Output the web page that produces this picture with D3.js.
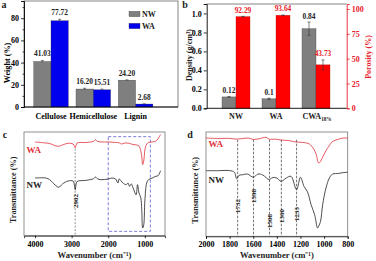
<!DOCTYPE html>
<html><head><meta charset="utf-8">
<script src="https://cdn.jsdelivr.net/npm/d3@7/dist/d3.min.js"></script>
<style>
body{margin:0;background:#fff}
svg text{font-family:"Liberation Serif","Times New Roman",serif;font-weight:bold}
</style>
</head><body>
<svg id="chart" width="376" height="261"></svg>
<script>
// ---------- data ----------
const compCategories = ["Cellulose", "Hemicellulose", "Lignin"];
const compSeries = ["NW", "WA"];
const compNW = [41.03, 16.20, 24.20];
const compWA = [77.72, 15.51, 2.68];
const compNWErr = [0.9, 0.7, 0.3];
const compWAErr = [1.3, 0.6, 0.2];
const compTicks = [0, 20, 40, 60, 80];

const sampleCategories = ["NW", "WA", "CWA"];
const density = [0.12, 0.1, 0.84];
const densityErr = [0.004, 0.006, 0.07];
const porosity = [92.29, 93.64, 43.73];
const porosityErr = [0.3, 0.3, 5];
const densityTicks = [0, 0.2, 0.4, 0.6, 0.8, 1.0];
const porosityTicks = [0, 25, 50, 75, 100];

const fullTicks = [4000, 3000, 2000, 1000];
const fullWA = [[4000,90.4],[3800,89.7],[3600,88.9],[3450,86.8],[3350,86.2],[3250,87.5],[3100,89.1],[2960,88.4],[2920,86],[2902,84.6],[2880,87],[2850,89.4],[2600,89.9],[2400,91],[2350,92.6],[2300,91],[2200,90.4],[2000,90.4],[1800,89.9],[1700,89.6],[1640,88.4],[1550,89.4],[1420,89],[1320,87.9],[1220,87.5],[1160,86.5],[1110,81.7],[1080,75],[1060,68.5],[1035,71.1],[1015,77],[1000,82.6],[950,88.4],[900,89.9],[800,90.4],[700,91.3],[650,93],[610,95.2],[570,97.6]];
const fullNW = [[4000,55.6],[3700,55.6],[3600,54],[3450,48.9],[3350,46.7],[3250,49.9],[3100,52.7],[2960,52.7],[2920,48],[2902,44.4],[2880,49],[2850,52.3],[2600,53.4],[2400,55],[2350,56.6],[2300,55],[2200,54],[2000,54.7],[1900,55.6],[1800,54.7],[1735,50.8],[1700,54.7],[1600,50.8],[1510,49.2],[1460,50.8],[1420,47.6],[1370,49.9],[1320,46],[1240,39.5],[1200,49.2],[1160,41.2],[1110,36.4],[1085,25],[1060,7.4],[1030,10.6],[1000,33.5],[950,50.8],[900,54],[800,55.6],[700,57.3],[640,57.8],[570,62.7]];
const fullMarks = [2902];
const fullBox = [2000, 850];

const fpTicks = [2000, 1800, 1600, 1400, 1200, 1000, 800];
const fpWA = [[2000,94.2],[1900,93.8],[1800,93.9],[1746,93.2],[1700,93.6],[1640,94.2],[1598,92.8],[1540,93.8],[1492,94.9],[1464,93],[1420,93.2],[1365,92.3],[1300,91.8],[1238,90.4],[1180,90],[1125,88.5],[1090,84],[1068,79],[1046,70.3],[1035,71],[1012,76],[984,82],[950,88],[927,91],[880,93],[850,94],[800,94.2]];
const fpNW = [[2000,62.9],[1900,62.9],[1800,63],[1760,61.5],[1740,55.2],[1720,58.5],[1690,59],[1650,59.7],[1598,56.6],[1560,59.7],[1520,58.8],[1464,54.3],[1440,56.2],[1400,55.9],[1365,52.7],[1320,55.9],[1280,57.5],[1233,44.7],[1200,56.6],[1170,47.9],[1140,42.5],[1110,30.3],[1080,20.7],[1055,8],[1045,9.9],[1030,14.4],[1012,30.3],[984,46.3],[955,55.9],[927,59.7],[880,60.2],[850,60.9],[800,61.4]];
const fpMarks = [1732, 1598, 1462, 1362, 1233];
const fpMarkLabels = ["1732", "1598", "1508", "1360", "1233"];

// ---------- drawing ----------
const svg = d3.select("#chart");
const GRAY = "#7f7f7f", BLUE = "#0000ee", RED = "#ff0000", RED2 = "#e8202a";
const FS = 8;

function frame(x0, x1, y0, y1, col) {
  svg.append("rect").attr("x", x0).attr("y", y0).attr("width", x1 - x0).attr("height", y1 - y0)
    .attr("fill", "none").attr("stroke", col || "#555").attr("stroke-width", 0.8);
}
function styleAxis(g, color) {
  g.selectAll("text").attr("font-size", FS).attr("fill", color || "#000")
    .attr("font-family", "Liberation Serif, serif").attr("font-weight", "bold");
  g.selectAll("line").attr("stroke", color || "#000").attr("stroke-width", 0.8);
  g.select(".domain").attr("stroke", color || "#000").attr("stroke-width", 0.9);
}
function label(txt, x, y, size, color, anchor, rot) {
  const t = svg.append("text").attr("font-size", size).attr("fill", color || "#000")
    .attr("text-anchor", anchor || "middle");
  if (rot) t.attr("transform", `translate(${x},${y}) rotate(${rot})`);
  else t.attr("x", x).attr("y", y);
  t.text(txt);
  return t;
}

// ---- panel a ----
(function () {
  const L = 24, R = 178, T = 1, B = 107;
  const x0 = d3.scaleBand().domain(compCategories).range([29.85, 156.75]);
  const bw = 17.3;
  const x1 = d3.scaleBand().domain(compSeries).range([x0.bandwidth() / 2 - bw, x0.bandwidth() / 2 + bw]);
  const y = d3.scaleLinear().domain([0, 95.5]).range([B, T]);
  frame(L, R, T, B, "#666");
  const vals = { NW: compNW, WA: compWA }, errs = { NW: compNWErr, WA: compWAErr }, cols = { NW: GRAY, WA: BLUE };
  compSeries.forEach(s => {
    compCategories.forEach((c, i) => {
      const xx = x0(c) + x1(s), v = vals[s][i], e = errs[s][i];
      svg.append("rect").attr("x", xx).attr("y", y(v)).attr("width", x1.bandwidth()).attr("height", B - y(v))
        .attr("fill", cols[s]).attr("stroke", "#333").attr("stroke-width", 0.3);
      const cx = xx + x1.bandwidth() / 2;
      svg.append("line").attr("x1", cx).attr("x2", cx).attr("y1", y(v + e)).attr("y2", y(v - e)).attr("stroke", "#333").attr("stroke-width", 0.6);
      svg.append("line").attr("x1", cx - 1.5).attr("x2", cx + 1.5).attr("y1", y(v + e)).attr("y2", y(v + e)).attr("stroke", "#333").attr("stroke-width", 0.6);
      label(v.toFixed(2), cx, y(v + e) - 4, 7.4, "#222");
    });
  });
  const ya = svg.append("g").attr("transform", `translate(${L},0)`)
    .call(d3.axisLeft(y).tickValues(compTicks).tickSize(3).tickPadding(2).tickFormat(d3.format("d")));
  styleAxis(ya);
  svg.append("g").attr("transform", `translate(${L},0)`)
    .call(d3.axisLeft(y).tickValues([10, 30, 50, 70, 90]).tickSize(1.5).tickFormat(""))
    .call(g => { g.select(".domain").remove(); g.selectAll("line").attr("stroke-width", 0.7); });
  const xa = svg.append("g").attr("transform", `translate(0,${B})`)
    .call(d3.axisBottom(x0).tickSize(0).tickPadding(6));
  styleAxis(xa);
  xa.select(".domain").attr("d", `M${L},0H${R}`);
  xa.selectAll("text").attr("font-size", 8);
  label("Weight (%)", 7, 63, 8.2, "#000", "middle", -90).attr("dy", "0.35em");
  label("a", 4, 8, 10, "#222", "middle");
  // legend
  compSeries.forEach((s, i) => {
    svg.append("rect").attr("x", 129).attr("y", 11.3 + i * 12).attr("width", 11).attr("height", 5.4)
      .attr("fill", cols[s]).attr("stroke", "#333").attr("stroke-width", 0.3);
    label(s, 142, 17 + i * 12, 8, "#222", "start");
  });
})();

// ---- panel b ----
(function () {
  const L = 206.7, R = 346.7, T = 4, B = 108.3;
  const x0 = d3.scaleBand().domain(sampleCategories).range([216, 336]);
  const bw = 14;
  const yd = d3.scaleLinear().domain([0, 1.1]).range([B, T]);
  const yp = d3.scaleLinear().domain([0, 105]).range([B, T]);
  svg.append("line").attr("x1", L).attr("x2", R).attr("y1", T).attr("y2", T).attr("stroke", "#666").attr("stroke-width", 0.8);
  sampleCategories.forEach((c, i) => {
    const cx0 = x0(c) + x0.bandwidth() / 2;
    const dx = cx0 - bw, dv = density[i], de = densityErr[i];
    svg.append("rect").attr("x", dx).attr("y", yd(dv)).attr("width", bw).attr("height", B - yd(dv))
      .attr("fill", GRAY).attr("stroke", "#333").attr("stroke-width", 0.3);
    const dcx = dx + bw / 2;
    svg.append("line").attr("x1", dcx).attr("x2", dcx).attr("y1", yd(dv + de)).attr("y2", yd(dv - de)).attr("stroke", "#333").attr("stroke-width", 0.6);
    [dv + de, dv - de].forEach(v => svg.append("line").attr("x1", dcx - 1.5).attr("x2", dcx + 1.5).attr("y1", yd(v)).attr("y2", yd(v)).attr("stroke", "#333").attr("stroke-width", 0.6));
    label(String(dv), dcx, yd(dv + de) - 3.5, 7.4, "#222");
    const px = cx0, pv = porosity[i], pe = porosityErr[i];
    svg.append("rect").attr("x", px).attr("y", yp(pv)).attr("width", bw).attr("height", B - yp(pv))
      .attr("fill", RED).attr("stroke", "#900").attr("stroke-width", 0.3);
    const pcx = px + bw / 2;
    svg.append("line").attr("x1", pcx).attr("x2", pcx).attr("y1", yp(pv + pe)).attr("y2", yp(pv - pe)).attr("stroke", "#333").attr("stroke-width", 0.6);
    [pv + pe, pv - pe].forEach(v => svg.append("line").attr("x1", pcx - 1.5).attr("x2", pcx + 1.5).attr("y1", yp(v)).attr("y2", yp(v)).attr("stroke", "#333").attr("stroke-width", 0.6));
    label(pv.toFixed(2), pcx, yp(pv + pe) - 3.5, 7.4, RED2);
  });
  const yl = svg.append("g").attr("transform", `translate(${L},0)`)
    .call(d3.axisLeft(yd).tickValues(densityTicks).tickSize(3).tickPadding(2).tickFormat(d3.format(".1f")));
  styleAxis(yl);
  const yr = svg.append("g").attr("transform", `translate(${R},0)`)
    .call(d3.axisRight(yp).tickValues(porosityTicks).tickSize(3).tickPadding(2).tickFormat(d3.format("d")));
  styleAxis(yr, RED2);
  const xa = svg.append("g").attr("transform", `translate(0,${B})`)
    .call(d3.axisBottom(x0).tickSize(0).tickPadding(6).tickFormat(() => ""));
  styleAxis(xa);
  xa.select(".domain").attr("d", `M${L},0H${R}`);
  sampleCategories.forEach(c => {
    const t = label("", x0(c) + x0.bandwidth() / 2, 119, 8, "#222");
    if (c === "CWA") {
      t.append("tspan").text("CWA");
      t.append("tspan").attr("font-size", 5.2).attr("dy", 2).text("18%");
      t.attr("x", x0(c) + x0.bandwidth() / 2 + 1);
    } else t.text(c);
  });
  label("Density (g/cm³)", 189.5, 55, 8, "#222", "middle", -90).attr("dy", "0.35em");
  label("Porosity (%)", 368.5, 57, 8, RED2, "middle", -90).attr("dy", "0.35em");
  label("b", 185, 7.5, 10, "#222", "middle");
})();

// ---- spectra helper ----
function spectrum(cfg) {
  const { L, R, T, B, xDomain, ticks, wa, nw, panel } = cfg;
  const x = d3.scaleLinear().domain(xDomain).range([L, R]);
  const y = d3.scaleLinear().domain([0, 100]).range([B, T]);
  frame(L, R, T, B, "#777");
  const line = d3.line().x(d => x(d[0])).y(d => y(d[1])).curve(d3.curveCatmullRom.alpha(0.5));
  cfg.extra && cfg.extra(x, y);
  svg.append("path").attr("d", line(wa)).attr("fill", "none").attr("stroke", "#e0303a").attr("stroke-width", 0.8);
  svg.append("path").attr("d", line(nw)).attr("fill", "none").attr("stroke", "#222").attr("stroke-width", 0.8);
  const xa = svg.append("g").attr("transform", `translate(0,${B})`)
    .call(d3.axisBottom(x).tickValues(ticks).tickSize(2.5).tickPadding(3).tickFormat(d3.format("d")));
  styleAxis(xa);
  xa.select(".domain").attr("stroke", "#333");
  label("Wavenumber (cm⁻¹)", (L + R) / 2, cfg.titleY, 8.6, "#222");
  label("Transmittance (%)", cfg.yTitleX, (T + B) / 2 + 6, 8.2, "#222", "middle", -90).attr("dy", "0.35em");
  label(panel, cfg.panelX, 138, 10, "#222");
  label("WA", cfg.waX, cfg.waY, 9, "#e0303a", "start");
  label("NW", cfg.waX, cfg.nwY, 9, "#222", "start");
  return { x, y };
}

// ---- panel c ----
spectrum({
  L: 24, R: 165, T: 132, B: 235.7, xDomain: [4300, 450], ticks: fullTicks, wa: fullWA, nw: fullNW,
  panel: "c", panelX: 5, titleY: 258, yTitleX: 13, waX: 26.5, waY: 153.3, nwY: 188.3,
  extra: (x, y) => {
    fullMarks.forEach(w => {
      svg.append("line").attr("x1", x(w)).attr("x2", x(w)).attr("y1", y(84)).attr("y2", y(0))
        .attr("stroke", "#777").attr("stroke-width", 0.8).attr("stroke-dasharray", "2,1.5");
      label(String(w), x(w) + 0.5, y(33.5), 7, "#222", "middle", -90).attr("dy", "0.35em");
    });
    svg.append("rect").attr("x", x(fullBox[0])).attr("y", y(95.5)).attr("width", x(fullBox[1]) - x(fullBox[0]))
      .attr("height", y(4.2) - y(95.5)).attr("fill", "none").attr("stroke", "#5a5ad0")
      .attr("stroke-width", 0.8).attr("stroke-dasharray", "3,2");
  }
});

// ---- panel d ----
spectrum({
  L: 206, R: 347.7, T: 132, B: 236.3, xDomain: [2000, 800], ticks: fpTicks, wa: fpWA, nw: fpNW,
  panel: "d", panelX: 190, titleY: 258, yTitleX: 195, waX: 208.5, waY: 146.5, nwY: 183,
  extra: (x, y) => {
    const labelY = [29, 38.6, 14.7, 19.5, 21.4];
    fpMarks.forEach((w, i) => {
      svg.append("line").attr("x1", x(w)).attr("x2", x(w)).attr("y1", y(92.6)).attr("y2", y(0))
        .attr("stroke", "#333").attr("stroke-width", 0.7).attr("stroke-dasharray", "2.5,1.5");
      label(fpMarkLabels[i], x(w), y(labelY[i]), 7, "#222", "middle", -90).attr("dy", "0.35em");
    });
  }
});
</script>
</body></html>
